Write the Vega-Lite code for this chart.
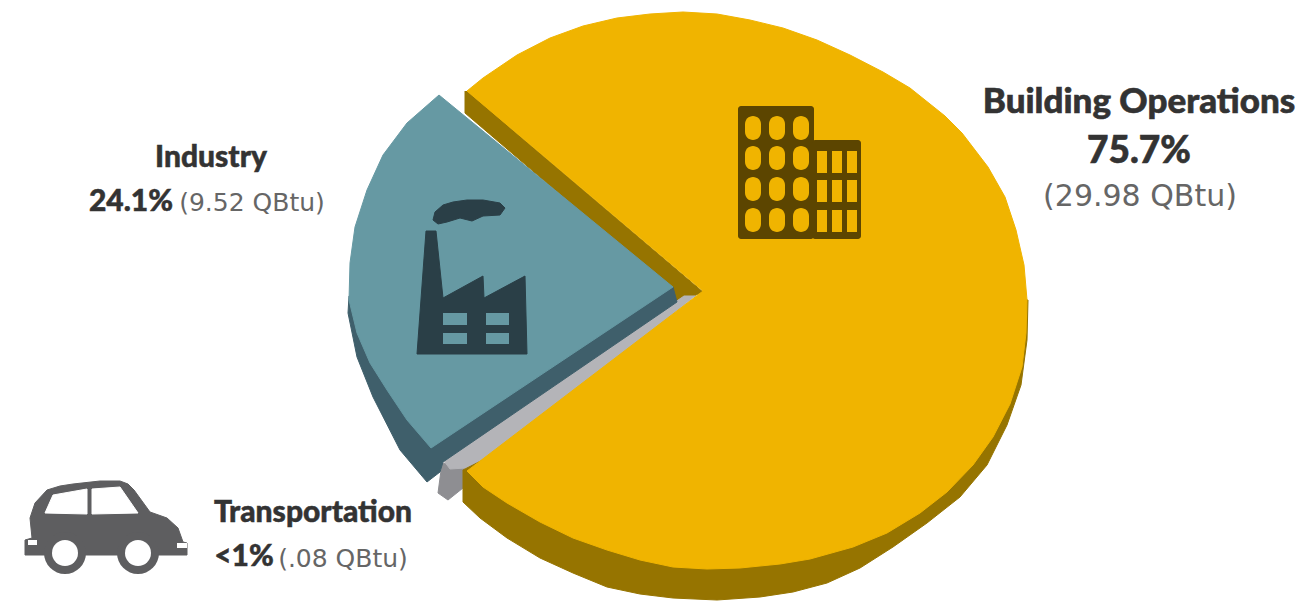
{
"$schema":"https://vega.github.io/schema/vega-lite/v6.json",
"width":1306,"height":602,"padding":0,"autosize":"none","background":"white",
"config":{"view":{"stroke":null}},
"datasets":{
"shapes":[
{"part":"Building side","i":1,"x":465,"y":91},{"part":"Building side","i":2,"x":465,"y":113},{"part":"Building side","i":3,"x":672,"y":290},{"part":"Building side","i":4,"x":677,"y":303},{"part":"Building side","i":5,"x":703,"y":292},{"part":"Building side","i":6,"x":467,"y":91},
{"part":"Transport side","i":1,"x":442,"y":463},{"part":"Transport side","i":2,"x":438,"y":493},{"part":"Transport side","i":3,"x":448,"y":500},{"part":"Transport side","i":4,"x":463,"y":488},{"part":"Transport side","i":5,"x":465,"y":466},{"part":"Transport side","i":6,"x":442,"y":463},
{"part":"Transport","i":1,"x":444,"y":461},{"part":"Transport","i":2,"x":684,"y":296},{"part":"Transport","i":3,"x":695,"y":296},{"part":"Transport","i":4,"x":480,"y":470},{"part":"Transport","i":5,"x":466,"y":468},{"part":"Transport","i":6,"x":450,"y":469},{"part":"Transport","i":7,"x":444,"y":461},
{"part":"Building rim","i":1,"x":463,"y":470},{"part":"Building rim","i":2,"x":463,"y":502},{"part":"Building rim","i":3,"x":480,"y":518},{"part":"Building rim","i":4,"x":507,"y":538},{"part":"Building rim","i":5,"x":540,"y":558},{"part":"Building rim","i":6,"x":573,"y":573},{"part":"Building rim","i":7,"x":607,"y":587},{"part":"Building rim","i":8,"x":640,"y":594},{"part":"Building rim","i":9,"x":673,"y":598},{"part":"Building rim","i":10,"x":717,"y":600},{"part":"Building rim","i":11,"x":760,"y":597},{"part":"Building rim","i":12,"x":793,"y":592},{"part":"Building rim","i":13,"x":827,"y":583},{"part":"Building rim","i":14,"x":860,"y":568},{"part":"Building rim","i":15,"x":893,"y":547},{"part":"Building rim","i":16,"x":927,"y":523},{"part":"Building rim","i":17,"x":960,"y":497},{"part":"Building rim","i":18,"x":987,"y":465},{"part":"Building rim","i":19,"x":1007,"y":425},{"part":"Building rim","i":20,"x":1021,"y":385},{"part":"Building rim","i":21,"x":1027,"y":340},{"part":"Building rim","i":22,"x":1028,"y":300},{"part":"Building rim","i":23,"x":800,"y":300},{"part":"Building rim","i":24,"x":463,"y":470},
{"part":"Building","i":1,"x":703,"y":291},{"part":"Building","i":2,"x":467,"y":91},{"part":"Building","i":3,"x":483,"y":78},{"part":"Building","i":4,"x":517,"y":55},{"part":"Building","i":5,"x":550,"y":38},{"part":"Building","i":6,"x":583,"y":26},{"part":"Building","i":7,"x":617,"y":18},{"part":"Building","i":8,"x":650,"y":14},{"part":"Building","i":9,"x":683,"y":12},{"part":"Building","i":10,"x":717,"y":14},{"part":"Building","i":11,"x":750,"y":20},{"part":"Building","i":12,"x":783,"y":28},{"part":"Building","i":13,"x":817,"y":40},{"part":"Building","i":14,"x":850,"y":55},{"part":"Building","i":15,"x":883,"y":72},{"part":"Building","i":16,"x":910,"y":88},{"part":"Building","i":17,"x":925,"y":100},{"part":"Building","i":18,"x":945,"y":116},{"part":"Building","i":19,"x":962,"y":133},{"part":"Building","i":20,"x":988,"y":167},{"part":"Building","i":21,"x":1005,"y":197},{"part":"Building","i":22,"x":1016,"y":230},{"part":"Building","i":23,"x":1024,"y":265},{"part":"Building","i":24,"x":1027,"y":300},{"part":"Building","i":25,"x":1026,"y":333},{"part":"Building","i":26,"x":1022,"y":367},{"part":"Building","i":27,"x":1010,"y":404},{"part":"Building","i":28,"x":993,"y":437},{"part":"Building","i":29,"x":973,"y":465},{"part":"Building","i":30,"x":947,"y":492},{"part":"Building","i":31,"x":920,"y":513},{"part":"Building","i":32,"x":887,"y":533},{"part":"Building","i":33,"x":853,"y":547},{"part":"Building","i":34,"x":810,"y":559},{"part":"Building","i":35,"x":780,"y":564},{"part":"Building","i":36,"x":740,"y":568},{"part":"Building","i":37,"x":707,"y":569},{"part":"Building","i":38,"x":673,"y":567},{"part":"Building","i":39,"x":640,"y":560},{"part":"Building","i":40,"x":607,"y":550},{"part":"Building","i":41,"x":573,"y":538},{"part":"Building","i":42,"x":540,"y":522},{"part":"Building","i":43,"x":507,"y":503},{"part":"Building","i":44,"x":483,"y":487},{"part":"Building","i":45,"x":467,"y":471},{"part":"Building","i":46,"x":703,"y":291},
{"part":"Industry side","i":1,"x":349,"y":296},{"part":"Industry side","i":2,"x":348,"y":313},{"part":"Industry side","i":3,"x":357,"y":357},{"part":"Industry side","i":4,"x":373,"y":397},{"part":"Industry side","i":5,"x":400,"y":450},{"part":"Industry side","i":6,"x":427,"y":482},{"part":"Industry side","i":7,"x":440,"y":472},{"part":"Industry side","i":8,"x":443,"y":462},{"part":"Industry side","i":9,"x":677,"y":302},{"part":"Industry side","i":10,"x":673,"y":287},{"part":"Industry side","i":11,"x":349,"y":296},
{"part":"Industry","i":1,"x":673,"y":287},{"part":"Industry","i":2,"x":439,"y":95},{"part":"Industry","i":3,"x":407,"y":123},{"part":"Industry","i":4,"x":383,"y":155},{"part":"Industry","i":5,"x":367,"y":190},{"part":"Industry","i":6,"x":355,"y":227},{"part":"Industry","i":7,"x":350,"y":263},{"part":"Industry","i":8,"x":349,"y":300},{"part":"Industry","i":9,"x":357,"y":333},{"part":"Industry","i":10,"x":370,"y":363},{"part":"Industry","i":11,"x":387,"y":390},{"part":"Industry","i":12,"x":407,"y":420},{"part":"Industry","i":13,"x":431,"y":448},{"part":"Industry","i":14,"x":673,"y":287},
{"part":"Factory","i":1,"x":426,"y":231},{"part":"Factory","i":2,"x":436,"y":231},{"part":"Factory","i":3,"x":443,"y":298},{"part":"Factory","i":4,"x":483,"y":276},{"part":"Factory","i":5,"x":484,"y":298},{"part":"Factory","i":6,"x":525,"y":276},{"part":"Factory","i":7,"x":527,"y":354},{"part":"Factory","i":8,"x":417,"y":354},{"part":"Factory","i":9,"x":426,"y":231},
{"part":"Smoke","i":1,"x":433,"y":220},{"part":"Smoke","i":2,"x":435,"y":212},{"part":"Smoke","i":3,"x":443,"y":205},{"part":"Smoke","i":4,"x":453,"y":202},{"part":"Smoke","i":5,"x":467,"y":200},{"part":"Smoke","i":6,"x":483,"y":200},{"part":"Smoke","i":7,"x":500,"y":203},{"part":"Smoke","i":8,"x":505,"y":208},{"part":"Smoke","i":9,"x":500,"y":215},{"part":"Smoke","i":10,"x":483,"y":216},{"part":"Smoke","i":11,"x":472,"y":221},{"part":"Smoke","i":12,"x":460,"y":218},{"part":"Smoke","i":13,"x":447,"y":222},{"part":"Smoke","i":14,"x":438,"y":224},{"part":"Smoke","i":15,"x":433,"y":220},
{"part":"Car","i":1,"x":25,"y":555},{"part":"Car","i":2,"x":25,"y":540},{"part":"Car","i":3,"x":32,"y":538},{"part":"Car","i":4,"x":30,"y":518},{"part":"Car","i":5,"x":35,"y":503},{"part":"Car","i":6,"x":47,"y":490},{"part":"Car","i":7,"x":60,"y":486},{"part":"Car","i":8,"x":73,"y":484},{"part":"Car","i":9,"x":100,"y":481},{"part":"Car","i":10,"x":120,"y":481},{"part":"Car","i":11,"x":128,"y":484},{"part":"Car","i":12,"x":134,"y":490},{"part":"Car","i":13,"x":150,"y":512},{"part":"Car","i":14,"x":167,"y":518},{"part":"Car","i":15,"x":178,"y":528},{"part":"Car","i":16,"x":183,"y":542},{"part":"Car","i":17,"x":187,"y":543},{"part":"Car","i":18,"x":187,"y":555},{"part":"Car","i":19,"x":25,"y":555},
{"part":"Car window rear","i":1,"x":45,"y":513},{"part":"Car window rear","i":2,"x":53,"y":495},{"part":"Car window rear","i":3,"x":87,"y":489},{"part":"Car window rear","i":4,"x":87,"y":514},{"part":"Car window rear","i":5,"x":45,"y":513},
{"part":"Car window front","i":1,"x":92,"y":514},{"part":"Car window front","i":2,"x":92,"y":489},{"part":"Car window front","i":3,"x":120,"y":487},{"part":"Car window front","i":4,"x":138,"y":513},{"part":"Car window front","i":5,"x":92,"y":514}
],
"tower":[
{"x":738,"x2":814,"y":106,"y2":239},{"x":812,"x2":861,"y":140,"y2":239}
],
"ovals":[
{"x":745,"x2":761,"y":116,"y2":140},{"x":769,"x2":785,"y":116,"y2":140},{"x":793,"x2":809,"y":116,"y2":140},
{"x":745,"x2":761,"y":146,"y2":170},{"x":769,"x2":785,"y":146,"y2":170},{"x":793,"x2":809,"y":146,"y2":170},
{"x":745,"x2":761,"y":177,"y2":201},{"x":769,"x2":785,"y":177,"y2":201},{"x":793,"x2":809,"y":177,"y2":201},
{"x":745,"x2":761,"y":208,"y2":232},{"x":769,"x2":785,"y":208,"y2":232},{"x":793,"x2":809,"y":208,"y2":232}
],
"panes":[
{"x":817,"x2":827,"y":151,"y2":173},{"x":832,"x2":842,"y":151,"y2":173},{"x":847,"x2":857,"y":151,"y2":173},
{"x":817,"x2":827,"y":180,"y2":202},{"x":832,"x2":842,"y":180,"y2":202},{"x":847,"x2":857,"y":180,"y2":202},
{"x":817,"x2":827,"y":210,"y2":232},{"x":832,"x2":842,"y":210,"y2":232},{"x":847,"x2":857,"y":210,"y2":232}
],
"factoryWindows":[
{"x":443,"x2":467,"y":313,"y2":325},{"x":486,"x2":509,"y":313,"y2":325},{"x":443,"x2":467,"y":333,"y2":344},{"x":486,"x2":509,"y":333,"y2":344}
],
"lights":[{"x":28,"x2":37,"y":540,"y2":545},{"x":177,"x2":187,"y":543,"y2":548}],
"wheels":[{"x":65,"y":553},{"x":138,"y":553}]
},
"encoding":{
"x":{"field":"x","type":"quantitative","axis":null,"scale":{"domain":[0,1306],"range":[0,1306],"nice":false,"zero":false}},
"y":{"field":"y","type":"quantitative","axis":null,"scale":{"domain":[0,602],"range":[0,602],"nice":false,"zero":false}}
},
"layer":[
{"data":{"name":"shapes"},"mark":{"type":"line","filled":true,"strokeWidth":1,"clip":true},
"encoding":{"order":{"field":"i","type":"quantitative"},
"fill":{"field":"part","type":"nominal","legend":null,"scale":{"domain":["Building side","Building rim","Building","Transport side","Transport","Industry side","Industry","Factory","Smoke","Car","Car window rear","Car window front"],"range":["#967400","#967400","#f0b400","#8e8e92","#b4b4b8","#3f5f6b","#6699a3","#2a3f47","#2a3f47","#5e5e60","#ffffff","#ffffff"]}},
"stroke":{"field":"part","type":"nominal","legend":null,"scale":{"domain":["Building side","Building rim","Building","Transport side","Transport","Industry side","Industry","Factory","Smoke","Car","Car window rear","Car window front"],"range":["#967400","#967400","#f0b400","#8e8e92","#b4b4b8","#3f5f6b","#6699a3","#2a3f47","#2a3f47","#5e5e60","#ffffff","#ffffff"]}}}},
{"data":{"name":"tower"},"mark":{"type":"rect","fill":"#5c4500","cornerRadius":3},"encoding":{"x2":{"field":"x2"},"y2":{"field":"y2"}}},
{"data":{"name":"ovals"},"mark":{"type":"rect","fill":"#f0b400","cornerRadius":8},"encoding":{"x2":{"field":"x2"},"y2":{"field":"y2"}}},
{"data":{"name":"panes"},"mark":{"type":"rect","fill":"#f0b400"},"encoding":{"x2":{"field":"x2"},"y2":{"field":"y2"}}},
{"data":{"name":"factoryWindows"},"mark":{"type":"rect","fill":"#6699a3"},"encoding":{"x2":{"field":"x2"},"y2":{"field":"y2"}}},
{"data":{"name":"wheels"},"mark":{"type":"point","filled":true,"shape":"circle","size":1764,"color":"#5e5e60","opacity":1}},
{"data":{"name":"wheels"},"mark":{"type":"point","filled":true,"shape":"circle","size":676,"color":"#ffffff","opacity":1}},
{"data":{"name":"lights"},"mark":{"type":"rect","fill":"#ffffff"},"encoding":{"x2":{"field":"x2"},"y2":{"field":"y2"}}},
{"data":{"values":[{"label":"Building Operations","x":1139,"y":113}]},"mark":{"type":"text","font":"Lato","fontWeight":900,"fontSize":35,"fill":"#333333","stroke":"#333333","strokeWidth":0.6,"align":"center","baseline":"alphabetic"},"encoding":{"text":{"field":"label"}}},
{"data":{"values":[{"label":"75.7%","x":1139,"y":163}]},"mark":{"type":"text","font":"Lato","fontWeight":900,"fontSize":37,"fill":"#333333","stroke":"#333333","strokeWidth":0.6,"align":"center","baseline":"alphabetic"},"encoding":{"text":{"field":"label"}}},
{"data":{"values":[{"label":"(29.98 QBtu)","x":1140,"y":206}]},"mark":{"type":"text","font":"DejaVu Sans","fontSize":30,"fill":"#666666","align":"center","baseline":"alphabetic"},"encoding":{"text":{"field":"label"}}},
{"data":{"values":[{"label":"Industry","x":211,"y":167},{"label":"24.1%","x":131,"y":211},{"label":"Transportation","x":313,"y":522},{"label":"<1%","x":244,"y":566}]},"mark":{"type":"text","font":"Lato","fontWeight":900,"fontSize":30,"fill":"#333333","stroke":"#333333","strokeWidth":0.5,"align":"center","baseline":"alphabetic"},"encoding":{"text":{"field":"label"}}},
{"data":{"values":[{"label":"(9.52 QBtu)","x":252,"y":211},{"label":"(.08 QBtu)","x":343,"y":567}]},"mark":{"type":"text","font":"DejaVu Sans","fontSize":25,"fill":"#666666","align":"center","baseline":"alphabetic"},"encoding":{"text":{"field":"label"}}}
]
}
